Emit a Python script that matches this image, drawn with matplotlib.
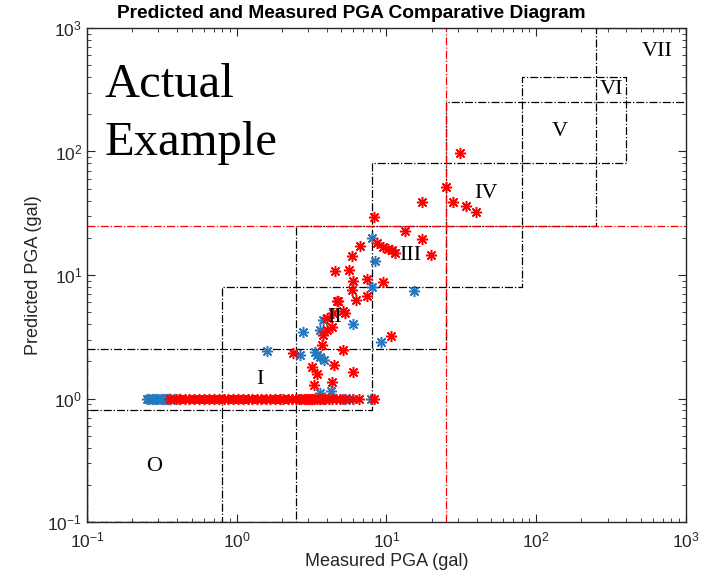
import matplotlib
matplotlib.use("Agg")
import matplotlib.pyplot as plt
from matplotlib.ticker import LogLocator, LogFormatterMathtext, NullFormatter

plt.rcParams['font.family'] = 'Liberation Sans'
plt.rcParams['mathtext.fontset'] = 'custom'
plt.rcParams['mathtext.rm'] = 'Liberation Sans'
plt.rcParams['mathtext.it'] = 'Liberation Sans:italic'

# intensity grade boxes (gal): each box spans [lo, hi] on both axes
box_lo = [0.1, 0.1, 0.8, 2.5, 8, 25, 80, 250]
box_hi = [0.8, 2.5, 8, 25, 80, 250, 400, 1000]
grade_names = ['O', 'I', 'II', 'III', 'IV', 'V', 'VI', 'VII']
grade_pos = [0.28, 1.42, 4.5, 14.4, 46, 144, 318, 640]
pga_limit = 25

# stations whose prediction was clipped at 1 gal
blue_floor_x = [0.25, 0.26, 0.27, 0.28, 0.29, 0.30, 0.31, 0.32, 0.33, 0.34,
                0.35, 0.36, 0.38, 0.41, 1.94, 3.6, 5.1, 5.6, 7.9]
red_floor_x = [0.36, 0.39, 0.42, 0.45, 0.48, 0.52, 0.56, 0.60, 0.65, 0.70,
               0.76, 0.82, 0.88, 0.95, 1.02, 1.10, 1.18, 1.27, 1.36, 1.46,
               1.57, 1.68, 1.80, 1.93, 2.05, 2.2, 2.35, 2.5, 2.6, 2.7, 2.8,
               2.9, 3.0, 3.1, 3.2, 3.3, 3.45, 3.6, 3.75, 3.9, 4.1, 4.3, 4.6,
               4.9, 5.3, 6.0, 6.6, 8.2]

blue_x = [1.6, 2.64, 2.78, 3.33, 3.42, 3.6, 3.83, 3.6, 3.78, 5.95, 9.18,
          4.24, 3.6, 8.0, 8.4, 8.0, 15.3]
blue_y = [2.42, 2.25, 3.43, 2.39, 2.25, 2.16, 2.05, 3.59, 4.32, 3.99, 2.88,
          1.16, 1.1, 20.0, 13.0, 7.95, 7.45]

red_x = [31, 25, 17.3, 27.9, 33.8, 39.8, 13.3, 17.2, 19.7, 8.2, 8.7, 9.5,
         10.3, 10.8, 11.4, 9.5, 6.65, 5.86, 4.53, 5.65, 6.0, 7.38, 5.9, 6.3,
         7.38, 4.64, 4.75, 5.15, 5.28, 4.42, 3.98, 4.3, 3.98, 3.78, 3.69,
         10.7, 2.39, 5.1, 3.16, 4.46, 3.42, 5.95, 3.3, 4.3]
red_y = [97, 52, 39, 39.2, 36.2, 32.2, 22.8, 19.5, 14.5, 29.3, 18.1, 16.9,
         16.2, 15.9, 15.1, 8.8, 17.3, 14.3, 10.8, 11.0, 9.0, 9.3, 7.56, 6.28,
         6.76, 6.16, 6.2, 5.1, 4.95, 4.9, 4.46, 3.81, 3.59, 3.27, 2.71,
         3.23, 2.35, 2.47, 1.81, 1.87, 1.58, 1.65, 1.29, 1.37]

fig = plt.figure(figsize=(7.08, 5.70), dpi=100)
ax = fig.add_axes([0.1229, 0.0842, 0.846, 0.8667])

for lo, hi in zip(box_lo, box_hi):
    ax.plot([lo, hi, hi, lo, lo], [lo, lo, hi, hi, lo], 'k-.', lw=0.9)

ax.axvline(pga_limit, color='red', ls='-.', lw=0.9)
ax.axhline(pga_limit, color='red', ls='-.', lw=0.9)

star = (8, 2, 0)
blue = '#2878bd'
ax.plot(blue_floor_x, [1.0] * len(blue_floor_x), ls='none', marker=star,
        ms=8, mew=1.1, color=blue)
ax.plot(blue_x, blue_y, ls='none', marker=star, ms=8, mew=1.1, color=blue)
ax.plot(red_floor_x, [1.0] * len(red_floor_x), ls='none', marker=star,
        ms=8, mew=1.1, color='red')
ax.plot(red_x, red_y, ls='none', marker=star, ms=8, mew=1.1, color='red')

for name, p in zip(grade_names, grade_pos):
    ax.text(p, p, name, family='Liberation Serif', fontsize=16,
            ha='center', va='center')

ax.text(0.03, 0.86, 'Actual', transform=ax.transAxes,
        family='Liberation Serif', fontsize=35, va='baseline')
ax.text(0.03, 0.743, 'Example', transform=ax.transAxes,
        family='Liberation Serif', fontsize=35, va='baseline')

ax.set_xscale('log')
ax.set_yscale('log')
ax.set_xlim(0.1, 1000)
ax.set_ylim(0.1, 1000)
for axis in (ax.xaxis, ax.yaxis):
    axis.set_major_locator(LogLocator(base=10, numticks=10))
    axis.set_minor_locator(LogLocator(base=10, subs=range(2, 10), numticks=10))
    axis.set_major_formatter(LogFormatterMathtext())
    axis.set_minor_formatter(NullFormatter())

ax.tick_params(which='both', direction='in', top=True, right=True,
               colors='#262626', labelsize=12.5)
ax.tick_params(which='major', length=6, width=0.8)
ax.tick_params(which='minor', length=3, width=0.6)
ax.tick_params(axis='x', which='major', pad=6)
for s in ax.spines.values():
    s.set_color('#262626')
    s.set_linewidth(1.0)

ax.set_title('Predicted and Measured PGA Comparative Diagram',
             fontweight='bold', fontsize=13.8, pad=7, x=0.442)
ax.set_xlabel('Measured PGA (gal)', fontsize=13, color='#262626', labelpad=2)
ax.set_ylabel('Predicted PGA (gal)', fontsize=13, color='#262626')

fig.savefig('out.png', dpi=100)
